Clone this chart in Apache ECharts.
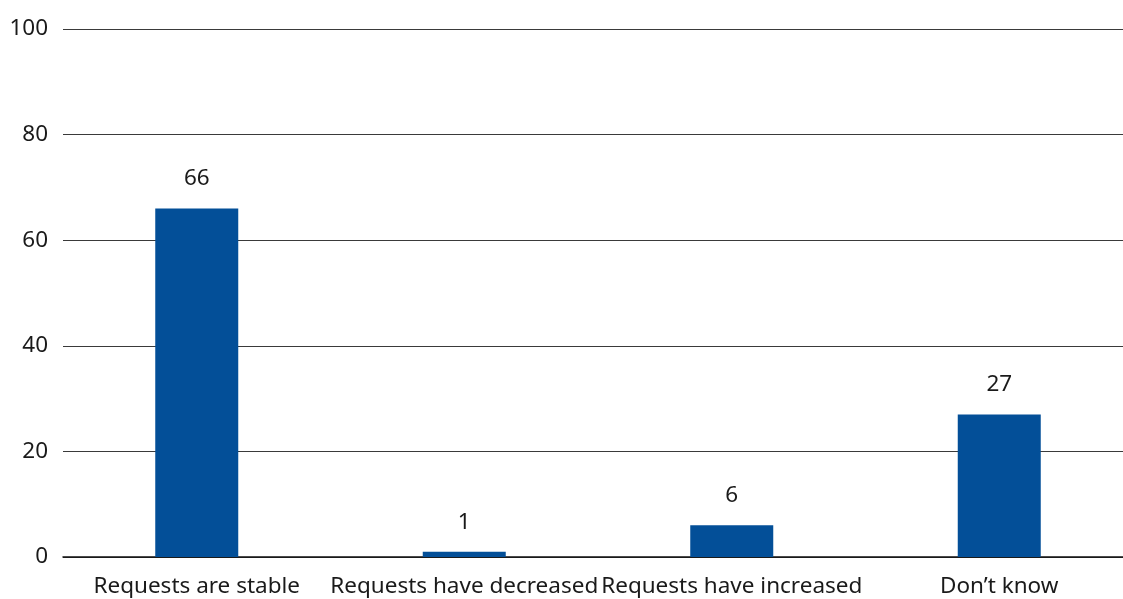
<!DOCTYPE html>
<html>
<head>
<meta charset="utf-8">
<script src="https://cdn.jsdelivr.net/npm/echarts@6/dist/echarts.min.js"></script>
<style>
  html, body { margin: 0; padding: 0; background: #ffffff; }
  #chart { width: 1123px; height: 599px; }
</style>
</head>
<body>
<div id="chart"></div>
<script>
// Survey answers and their shares (%)
const categories = ['Requests are stable', 'Requests have decreased', 'Requests have increased', 'Don\u2019t know'];
const shares = [66, 1, 6, 27];
const yTicks = [0, 20, 40, 60, 80, 100];

const FONT = '"Noto Sans", sans-serif';
const chart = echarts.init(document.getElementById('chart'), null, { renderer: 'canvas' });

chart.setOption({
  animation: false,
  backgroundColor: '#ffffff',
  // plot area runs a little past the right edge of the canvas
  grid: { left: 63, width: 1070, top: 29, bottom: 42, containLabel: false, outerBoundsMode: 'none' },
  xAxis: {
    type: 'category',
    data: categories,
    axisTick: { show: false },
    axisLine: { show: true, lineStyle: { color: '#111111', width: 1.5 } },
    axisLabel: { color: '#1a1a1a', fontSize: 22.5, fontFamily: FONT, margin: 18, interval: 0 }
  },
  yAxis: {
    type: 'value',
    min: yTicks[0],
    max: yTicks[yTicks.length - 1],
    interval: yTicks[1] - yTicks[0],
    axisLine: { show: false },
    axisTick: { show: false },
    splitLine: { show: true, lineStyle: { color: '#3a3a3a', width: 1.2 } },
    axisLabel: { color: '#1a1a1a', fontSize: 22.5, fontFamily: FONT, margin: 15 }
  },
  series: [{
    type: 'bar',
    data: shares,
    barWidth: 83,
    itemStyle: { color: '#034f98' },
    label: {
      show: true,
      position: 'top',
      distance: 18,
      color: '#1a1a1a',
      fontSize: 22.5,
      fontFamily: FONT
    }
  }]
});
</script>
</body>
</html>
